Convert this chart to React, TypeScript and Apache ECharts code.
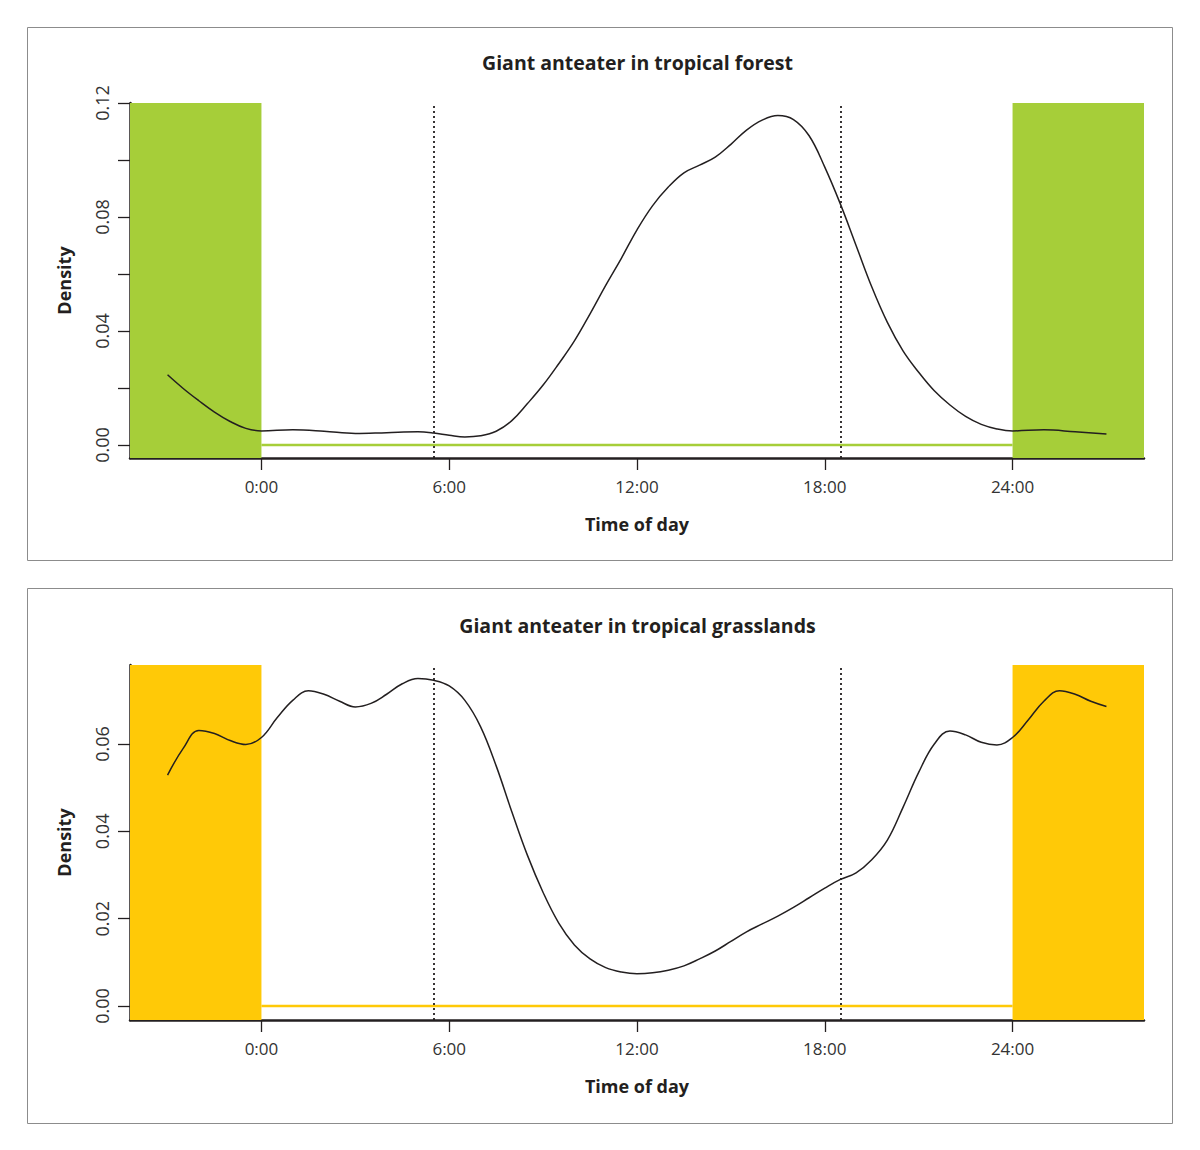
import React, { useEffect, useRef } from 'react';
import * as echarts from 'echarts';

// density curves (hours, density)
const forestHours = [
  -3, -2.5, -2, -1.5, -1, -0.5, 0, 1, 2, 3, 4, 5, 5.5, 6, 6.5, 7, 7.5, 8, 8.5, 9, 9.5, 10, 10.5,
  11, 11.5, 12, 12.5, 13, 13.5, 14, 14.5, 15, 15.5, 16, 16.5, 17, 17.5, 18, 18.5, 19, 19.5, 20,
  20.5, 21, 21.5, 22, 22.5, 23, 23.5, 24, 25, 26, 27,
];
const forestDensity = [
  0.0246, 0.0198, 0.0155, 0.0115, 0.0082, 0.0058, 0.0049, 0.0053, 0.0048, 0.004, 0.0043, 0.0046,
  0.0042, 0.0034, 0.0028, 0.0032, 0.0048, 0.0085, 0.0145, 0.021, 0.0285, 0.0365, 0.046, 0.056,
  0.0655, 0.0755, 0.084, 0.0905, 0.0955, 0.0982, 0.101, 0.1055, 0.1105, 0.114, 0.1156, 0.1142,
  0.1085, 0.0975, 0.0845, 0.07, 0.0555, 0.043, 0.033, 0.0255, 0.019, 0.014, 0.01, 0.0072, 0.0056,
  0.0049, 0.0053, 0.0046, 0.0038,
];

const grassHours = [
  -3, -2.5, -2, -1.5, -1, -0.5, 0, 0.5, 1, 1.5, 2, 2.5, 3, 3.5, 4, 4.5, 5, 5.5, 6, 6.5, 7, 7.5, 8,
  8.5, 9, 9.5, 10, 10.5, 11, 11.5, 12, 12.5, 13, 13.5, 14, 14.5, 15, 15.5, 16, 16.5, 17, 17.5, 18,
  18.5, 19, 19.5, 20, 20.5, 21, 21.5, 22, 22.5, 23, 23.5, 24, 24.5, 25, 25.5, 26, 26.5, 27,
];
const grassDensity = [
  0.0529, 0.059, 0.0631, 0.0624, 0.0608, 0.0599, 0.0615, 0.066, 0.07, 0.0722, 0.0714, 0.0698,
  0.0685, 0.0693, 0.0714, 0.0738, 0.075, 0.0746, 0.0733, 0.07, 0.064, 0.055, 0.0445, 0.0345,
  0.026, 0.019, 0.014, 0.0108, 0.0088, 0.0078, 0.0074, 0.0076, 0.0082, 0.0092, 0.0108, 0.0126,
  0.0148, 0.017, 0.0188, 0.0206, 0.0226, 0.0248, 0.027, 0.029, 0.0305, 0.0335, 0.038, 0.0455,
  0.0535, 0.06, 0.063, 0.0621, 0.0604, 0.0598, 0.0615, 0.0655, 0.0698, 0.0722, 0.0714, 0.0698,
  0.0686,
];

const hourTicks = [0, 6, 12, 18, 24];
const forestTicks = [0, 0.02, 0.04, 0.06, 0.08, 0.1, 0.12];
const forestLabels = [0, 0.04, 0.08, 0.12];
const grassTicks = [0, 0.02, 0.04, 0.06];
const sunTimes = [5.5, 18.5]; // sunrise / sunset
const nightBands = [[-4.2, 0], [24, 28.2]];
const panelTitles = ['Giant anteater in tropical forest', 'Giant anteater in tropical grasslands'];

const FONT = "'Open Sans', sans-serif";
const INK = '#231f20';
const GREEN = '#a6ce39';
const YELLOW = '#ffc907';

const xAxisFor = (gridIndex: number) => ({
  type: 'value' as const,
  gridIndex,
  min: -4.2,
  max: 28.2,
  name: 'Time of day',
  nameLocation: 'middle' as const,
  nameGap: 57,
  nameTextStyle: { fontFamily: FONT, fontSize: 18, fontWeight: 'bold' as const, color: INK },
  axisLine: { show: true, onZero: false, lineStyle: { color: INK, width: 2.5 } },
  axisTick: { show: true, length: 12, customValues: hourTicks, lineStyle: { color: INK, width: 1.3 } },
  axisLabel: {
    customValues: hourTicks,
    formatter: (v: number) => `${v}:00`,
    margin: 20,
    fontFamily: FONT,
    fontSize: 17,
    color: '#333',
  },
  splitLine: { show: false },
});

const yAxisFor = (gridIndex: number, min: number, max: number, ticks: number[], labels: number[]) => ({
  type: 'value' as const,
  gridIndex,
  min,
  max,
  name: 'Density',
  nameLocation: 'middle' as const,
  nameGap: 57,
  nameTextStyle: { fontFamily: FONT, fontSize: 18, fontWeight: 'bold' as const, color: INK },
  axisLine: { show: true, onZero: false, lineStyle: { color: INK, width: 2.5 } },
  axisTick: { show: true, length: 12, customValues: ticks, lineStyle: { color: INK, width: 1.3 } },
  axisLabel: {
    customValues: labels,
    formatter: (v: number) => v.toFixed(2),
    rotate: 90,
    margin: 19,
    fontFamily: FONT,
    fontSize: 18,
    color: '#333',
  },
  splitLine: { show: false },
});

const panelSeries = (idx: number, hours: number[], dens: number[], color: string) => [
  {
    type: 'line' as const,
    xAxisIndex: idx,
    yAxisIndex: idx,
    data: [[0, 0], [24, 0]],
    symbol: 'none',
    lineStyle: { color, width: 2.5 },
    markArea: {
      silent: true,
      itemStyle: { color },
      data: nightBands.map(([a, b]) => [{ xAxis: a }, { xAxis: b }]),
    },
    markLine: {
      silent: true,
      symbol: ['none', 'none'],
      label: { show: false },
      lineStyle: { color: INK, type: [2, 3], width: 1.8 },
      data: sunTimes.map((t) => ({ xAxis: t })),
    },
    z: 1,
  },
  {
    type: 'line' as const,
    xAxisIndex: idx,
    yAxisIndex: idx,
    data: hours.map((h, i) => [h, dens[i]]),
    smooth: 0.4,
    symbol: 'none',
    lineStyle: { color: INK, width: 1.5 },
    z: 3,
  },
];

const App: React.FC = () => {
  const chartRef = useRef<HTMLDivElement>(null);

  useEffect(() => {
    if (!chartRef.current) return;
    const chart = echarts.init(chartRef.current, undefined, { renderer: 'svg' });

    chart.setOption({
      animation: false,
      backgroundColor: '#fff',
      grid: [
        { left: 130, right: 56, top: 103, bottom: 692 },
        { left: 130, right: 56, top: 665, bottom: 130 },
      ],
      xAxis: [xAxisFor(0), xAxisFor(1)],
      yAxis: [
        yAxisFor(0, -0.0046, 0.12, forestTicks, forestLabels),
        yAxisFor(1, -0.0032, 0.0781, grassTicks, grassTicks),
      ],
      series: [
        ...panelSeries(0, forestHours, forestDensity, GREEN),
        ...panelSeries(1, grassHours, grassDensity, YELLOW),
      ],
      graphic: [
        {
          type: 'rect',
          shape: { x: 27.5, y: 27.5, width: 1145, height: 533 },
          style: { fill: 'none', stroke: '#8c8c8c', lineWidth: 1 },
        },
        {
          type: 'rect',
          shape: { x: 27.5, y: 588.5, width: 1145, height: 535 },
          style: { fill: 'none', stroke: '#8c8c8c', lineWidth: 1 },
        },
        ...panelTitles.map((t, i) => ({
          type: 'text',
          x: 637.5,
          y: 62 + i * 563,
          style: {
            text: t,
            align: 'center',
            verticalAlign: 'middle',
            fontFamily: FONT,
            fontSize: 19.5,
            fontWeight: 'bold',
            fill: INK,
          },
        })),
      ],
    });

    return () => chart.dispose();
  }, []);

  return (
    <div
      ref={chartRef}
      style={{ position: 'absolute', left: 0, top: 0, width: 1200, height: 1150 }}
      aria-label="Giant anteater activity density"
      role="img"
    />
  );
};

export default App;
